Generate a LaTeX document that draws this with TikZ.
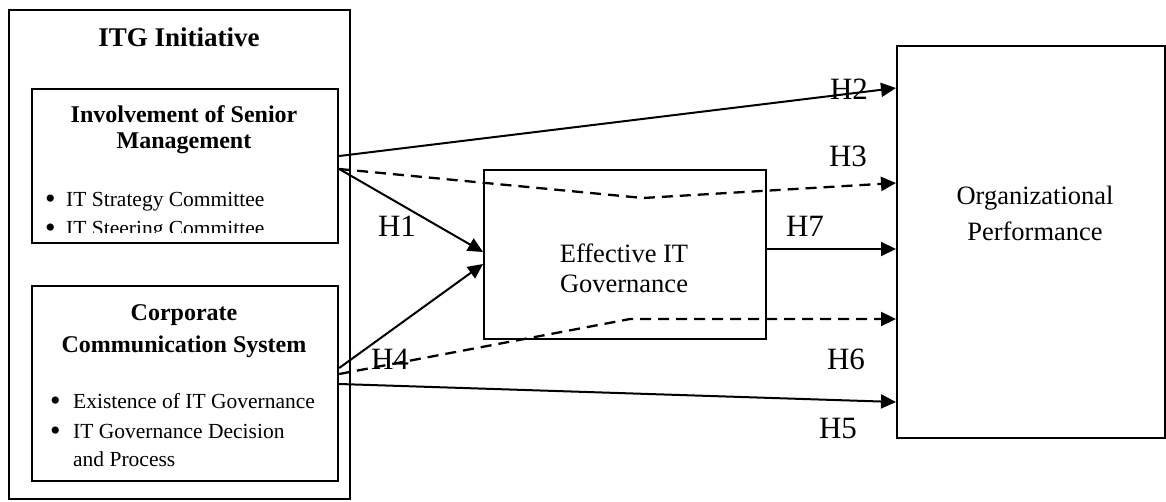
\documentclass[tikz,border=0pt]{standalone}
\usepackage{fontspec}
\setmainfont{Liberation Serif}
\usetikzlibrary{arrows.meta,calc}
\tikzset{
  boxline/.style={draw=black, line width=2.2pt, rectangle, inner sep=0pt, anchor=north west},
  conn/.style={line width=2pt, -{Triangle[length=15pt,width=14pt]}},
  dconn/.style={conn, line width=2.3pt, dash pattern=on 11pt off 7pt},
  hlab/.style={anchor=base, inner sep=0pt, font=\fontsize{31}{34}\selectfont},
  ttl/.style={anchor=base, inner sep=0pt, font=\fontsize{24}{28}\selectfont\bfseries},
  bul/.style={anchor=base west, inner sep=0pt, font=\fontsize{21.5}{25}\selectfont},
  dot/.style={anchor=base west, inner sep=0pt, font=\fontsize{30}{25}\selectfont},
  txt/.style={anchor=base, inner sep=0pt, font=\fontsize{26.5}{30}\selectfont}
}
\begin{document}
\begin{tikzpicture}[x=1pt,y=-1pt]
\useasboundingbox (0,0) rectangle (1166,502);
% boxes
\node[boxline, minimum width=341pt, minimum height=489pt] (itg) at (8,9) {};
\node[boxline, minimum width=306pt, minimum height=154pt] (sm) at (31,88) {};
\node[boxline, minimum width=306pt, minimum height=195pt] (cc) at (31,285) {};
\node[boxline, minimum width=282pt, minimum height=169pt] (eg) at (483,169) {};
\node[boxline, minimum width=268pt, minimum height=392pt] (op) at (896,45) {};
% texts
\node[ttl, font=\fontsize{27}{30}\selectfont\bfseries] (t0) at (179,47) {ITG Initiative};
\node[ttl] (t1) at (184,123) {Involvement of Senior};
\node[ttl] (t2) at (184,149) {Management};
\node[dot] (b1a) at (45,209) {•};
\node[bul] (b1) at (66,207) {IT Strategy Committee};
\begin{scope}
\clip (0,0) rectangle (1166,233);
\node[dot] (b2a) at (45,238) {•};
\node[bul] (b2) at (66,236) {IT Steering Committee};
\end{scope}
\node[ttl] (t3) at (184,320) {Corporate};
\node[ttl] (t4) at (184,352) {Communication System};
\node[dot] (c1a) at (50,410) {•};
\node[bul] (c1) at (73,408) {Existence of IT Governance};
\node[dot] (c2a) at (50,440) {•};
\node[bul] (c2) at (73,438) {IT Governance Decision};
\node[bul] (c3) at (73,466) {and Process};
\node[txt] (e1) at (624,263) {Effective IT};
\node[txt] (e2) at (624,293) {Governance};
\node[txt] (o1) at (1035,205) {Organizational};
\node[txt] (o2) at (1035,241) {Performance};
% bend points
\coordinate (h3b) at (643,198);
\coordinate (h6b) at (630,319);
% connectors
\draw[conn] ([yshift=-68pt]sm.north east) -- ([yshift=-43pt]op.north west);
\draw[dconn] ([yshift=-81pt]sm.north east) -- (h3b) -- ([yshift=-138pt]op.north west);
\draw[conn] ([yshift=-81pt]sm.north east) -- ([yshift=-83pt]eg.north west);
\draw[conn] ([yshift=-83pt]cc.north east) -- ([yshift=-95pt]eg.north west);
\draw[dconn] ([yshift=-89pt]cc.north east) -- (h6b) -- ([yshift=-274pt]op.north west);
\draw[conn] ([yshift=-99pt]cc.north east) -- ([yshift=-357pt]op.north west);
\draw[conn] ([yshift=-80pt]eg.north east) -- ([yshift=-204pt]op.north west);
% labels
\node[hlab] (l2) at (849,100) {H2};
\node[hlab] (l3) at (848,167) {H3};
\node[hlab] (l1) at (397,237) {H1};
\node[hlab] (l7) at (805,237) {H7};
\node[hlab] (l4) at (390,369) {H4};
\node[hlab] (l6) at (846,369) {H6};
\node[hlab] (l5) at (838,438) {H5};
\end{tikzpicture}
\end{document}
